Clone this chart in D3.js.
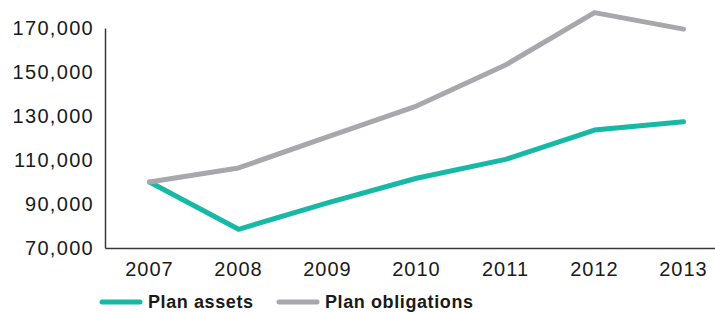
<!DOCTYPE html>
<html>
<head>
<meta charset="utf-8">
<script src="https://cdn.jsdelivr.net/npm/d3@7"></script>
<style>
  body { margin: 0; background: #fff; }
  svg { display: block; }
</style>
</head>
<body>
<svg id="chart" width="715" height="312"></svg>
<script>
// Years along the bottom
const years = ["2007", "2008", "2009", "2010", "2011", "2012", "2013"];
// Values
const planAssets = [100000, 78500, 90500, 101700, 110300, 123600, 127400];
const planObligations = [100000, 106400, 120500, 134500, 153200, 177000, 169500];
const yTicks = [70000, 90000, 110000, 130000, 150000, 170000];

const seriesNames = ["Plan assets", "Plan obligations"];
const seriesColors = ["#17b8a6", "#a8a8ac"];

let svg = d3.select("#chart");

// Plot area
let plotLeft = 105, plotRight = 728, plotTop = 28, plotBottom = 248;

let x = d3.scaleBand().domain(years).range([plotLeft, plotRight]);
let y = d3.scaleLinear().domain([70000, 170000]).range([plotBottom, plotTop]);

// Y axis labels, no ticks
let fmt = d3.format(",");
let yAxis = svg.append("g")
    .attr("transform", "translate(" + plotLeft + ",0)")
    .call(d3.axisLeft(y).tickValues(yTicks).tickFormat(fmt).tickSize(0).tickPadding(11));
yAxis.select(".domain").attr("stroke", "#3a3a3a").attr("stroke-width", 1.5);
yAxis.selectAll("text")
    .style("font-family", "'Liberation Sans', Arial, sans-serif")
    .style("font-size", "20px")
    .style("letter-spacing", "1.3px")
    .attr("fill", "#1a1a1a");

// X axis
let xAxis = svg.append("g")
    .attr("transform", "translate(0," + plotBottom + ")")
    .call(d3.axisBottom(x).tickSize(0).tickPadding(14));
xAxis.select(".domain").attr("stroke", "#3a3a3a").attr("stroke-width", 1.5);
xAxis.selectAll("text")
    .style("font-family", "'Liberation Sans', Arial, sans-serif")
    .style("font-size", "20px")
    .style("letter-spacing", "1px")
    .attr("fill", "#1a1a1a");

// Lines
let line = d3.line()
    .x((d, i) => x(years[i]) + x.bandwidth() / 2)
    .y(d => y(d));

[planAssets, planObligations].forEach((vals, i) => {
    svg.append("path")
        .attr("d", line(vals))
        .attr("fill", "none")
        .attr("stroke", seriesColors[i])
        .attr("stroke-width", 5)
        .attr("stroke-linejoin", "round")
        .attr("stroke-linecap", "round");
});

// Legend
let legendX = [102, 279];
let legend = svg.append("g");
seriesNames.forEach((name, i) => {
    legend.append("line")
        .attr("x1", legendX[i]).attr("x2", legendX[i] + 38)
        .attr("y1", 302).attr("y2", 302)
        .attr("stroke", seriesColors[i])
        .attr("stroke-width", 5)
        .attr("stroke-linecap", "round");
    legend.append("text")
        .attr("x", legendX[i] + 46)
        .attr("y", 308)
        .style("font-family", "'Liberation Sans', Arial, sans-serif")
        .style("font-size", "18px")
        .style("font-weight", "bold")
        .style("letter-spacing", "0.6px")
        .attr("fill", "#1a1a1a")
        .text(name);
});
</script>
</body>
</html>
